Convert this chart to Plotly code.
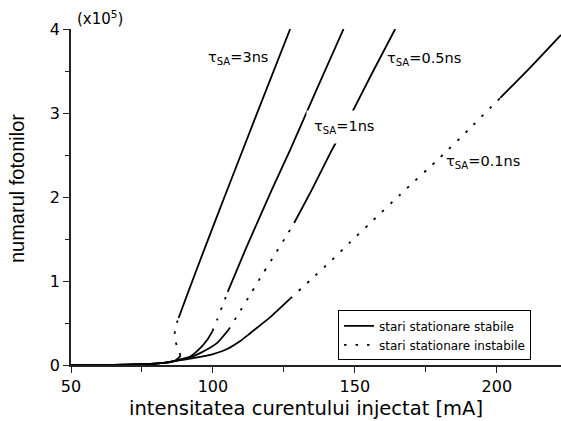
import plotly.graph_objects as go

# ---------------- data ----------------
# tau_SA = 3 ns
t3_low_x = [50, 60, 70, 78, 84, 87, 88.6]
t3_low_y = [0, 0.001, 0.004, 0.012, 0.03, 0.06, 0.11]
t3_uns_x = [88.6, 87.6, 86.8, 86.5, 86.8, 87.9]
t3_uns_y = [0.11, 0.2, 0.28, 0.36, 0.45, 0.56]
t3_high_x = [87.9, 91.4, 97, 104.4, 115, 127.2]
t3_high_y = [0.56, 0.88, 1.38, 2.03, 2.95, 4.0]

# tau_SA = 1 ns
t1_low_x = [50, 60, 70, 78, 84, 88, 92, 95.5, 98, 99.8]
t1_low_y = [0, 0.001, 0.004, 0.012, 0.03, 0.06, 0.1, 0.2, 0.3, 0.4]
t1_uns_x = [99.8, 101.5, 103.3, 105.2]
t1_uns_y = [0.4, 0.54, 0.7, 0.87]
t1_high_x = [105.2, 111.4, 120.8, 127.2, 136, 146]
t1_high_y = [0.87, 1.37, 2.09, 2.56, 3.24, 4.0]

# tau_SA = 0.5 ns
t05_low_x = [50, 60, 70, 78, 84, 88, 92, 96, 101.4, 105.5]
t05_low_y = [0, 0.001, 0.004, 0.012, 0.03, 0.06, 0.09, 0.15, 0.26, 0.42]
t05_uns_x = [105.5, 109, 113.7, 117.8, 121.9, 126.1, 128.6]
t05_uns_y = [0.42, 0.61, 0.87, 1.1, 1.32, 1.55, 1.69]
t05_high_x = [128.6, 134.9, 141.9, 148.9, 156, 164.2]
t05_high_y = [1.69, 2.09, 2.56, 3.0, 3.47, 4.0]

# tau_SA = 0.1 ns
t01_low_x = [50, 60, 70, 78, 84, 88, 92, 96, 100, 105, 109.6, 113, 116.7, 120.2, 127.2]
t01_low_y = [0, 0.001, 0.004, 0.012, 0.03, 0.055, 0.075, 0.1, 0.13, 0.19, 0.285, 0.375, 0.475, 0.57, 0.79]
t01_uns_x = [127.2, 134.3, 141.3, 148.3, 155.4, 166, 180, 190, 201.2]
t01_uns_y = [0.79, 1.01, 1.23, 1.46, 1.69, 2.03, 2.47, 2.8, 3.18]
t01_high_x = [201.2, 212, 222.6]
t01_high_y = [3.18, 3.55, 3.93]

labels = ["τ<sub>SA</sub>=3ns", "τ<sub>SA</sub>=1ns", "τ<sub>SA</sub>=0.5ns", "τ<sub>SA</sub>=0.1ns"]
label_x = [108.7, 146.2, 174.2, 195.0]
label_y = [3.66, 2.83, 3.64, 2.42]

legend_names = ["stari stationare stabile", "stari stationare instabile"]
x_title = "intensitatea curentului injectat [mA]"
y_title = "numarul fotonilor"
scale_label = "(x10<sup>5</sup>)"

# ---------------- figure ----------------
LW = 1.8
DOT = "2.5px,9px"
fig = go.Figure()

stable = [(t3_low_x, t3_low_y), (t3_high_x, t3_high_y),
          (t1_low_x, t1_low_y), (t1_high_x, t1_high_y),
          (t05_low_x, t05_low_y), (t05_high_x, t05_high_y),
          (t01_low_x, t01_low_y), (t01_high_x, t01_high_y)]
unstable = [(t3_uns_x, t3_uns_y), (t1_uns_x, t1_uns_y),
            (t05_uns_x, t05_uns_y), (t01_uns_x, t01_uns_y)]

for i, (xs, ys) in enumerate(stable):
    fig.add_trace(go.Scatter(x=xs, y=ys, mode="lines",
                             line=dict(color="black", width=LW, shape="spline", smoothing=0.5),
                             name=legend_names[0], showlegend=(i == 0)))
for i, (xs, ys) in enumerate(unstable):
    fig.add_trace(go.Scatter(x=xs, y=ys, mode="lines",
                             line=dict(color="black", width=LW, dash=DOT, shape="spline", smoothing=0.5),
                             name=legend_names[1], showlegend=(i == 0)))

TICKFONT = dict(family="DejaVu Sans", size=16, color="black")
AXC = "#222"

fig.update_layout(
    width=561, height=421,
    margin=dict(l=71, r=0, t=29, b=56),
    paper_bgcolor="white", plot_bgcolor="white",
    showlegend=True,
    legend=dict(x=0.545, y=0.088, xanchor="left", yanchor="middle",
                bordercolor="black", borderwidth=1, bgcolor="white",
                font=dict(family="DejaVu Sans", size=12, color="black"),
                tracegroupgap=0, itemwidth=30),
    xaxis=dict(range=[50, 222.6], tick0=50, dtick=50, showgrid=False, zeroline=False,
               showline=True, linecolor=AXC, linewidth=1.6,
               ticks="outside", ticklen=6, tickwidth=1.4, tickcolor=AXC,
               tickfont=TICKFONT,
               minor=dict(tick0=50, dtick=25, ticks="outside", ticklen=5, tickwidth=1.2, tickcolor=AXC)),
    xaxis2=dict(range=[50, 222.6], matches="x", overlaying="x", side="top", anchor="y",
                showgrid=False, zeroline=False, showline=True, linecolor=AXC, linewidth=1.6,
                tick0=50, dtick=50, ticks="inside", ticklen=5, tickwidth=1.2, tickcolor=AXC,
                showticklabels=False,
                minor=dict(tick0=50, dtick=25, ticks="inside", ticklen=4, tickwidth=1.2, tickcolor=AXC)),
    yaxis=dict(range=[0, 4], tick0=0, dtick=1, showgrid=False, zeroline=False,
               showline=True, linecolor=AXC, linewidth=1.6,
               ticks="outside", ticklen=6, tickwidth=1.4, tickcolor=AXC,
               tickfont=TICKFONT,
               minor=dict(dtick=0.5, ticks="outside", ticklen=4, tickwidth=1.2, tickcolor=AXC)),
)

for i, (t, lx, ly) in enumerate(zip(labels, label_x, label_y)):
    fig.add_annotation(x=lx, y=ly, xref="x", yref="y", text=t, showarrow=False,
                       font=dict(family="DejaVu Sans", size=14.5, color="black"),
                       bgcolor="white" if i == 1 else None,
                       borderpad=7 if i == 1 else 1)

fig.add_annotation(x=0.008, y=1.033, xref="paper", yref="paper", text=scale_label,
                   showarrow=False, xanchor="left", yanchor="middle",
                   font=dict(family="DejaVu Sans", size=15, color="black"))
fig.add_annotation(x=0.4786, y=-0.128, xref="paper", yref="paper", text=x_title,
                   showarrow=False, xanchor="center", yanchor="middle",
                   font=dict(family="DejaVu Sans", size=19.5, color="black"))
fig.add_annotation(x=-0.110, y=0.524, xref="paper", yref="paper", text=y_title,
                   showarrow=False, xanchor="center", yanchor="middle", textangle=-90,
                   font=dict(family="Liberation Sans", size=20, color="black"))

fig.write_html("out.html")
